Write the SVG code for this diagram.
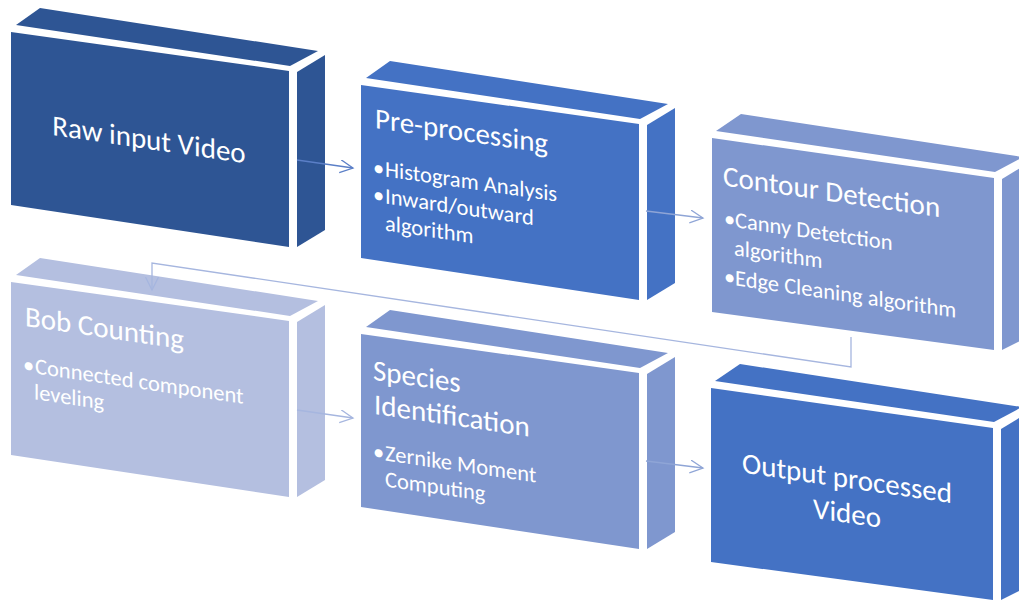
<svg xmlns="http://www.w3.org/2000/svg" width="1019" height="602" viewBox="0 0 1019 602">
<style>
.t{font-family:Carlito,Lato,"Liberation Sans",sans-serif;fill:#ffffff;}
.h{font-size:29px;}
.b{font-size:22.5px;}
.c1{fill:#2E5594;}
.c2{fill:#4472C4;}
.c3{fill:#7F97CF;}
.c4{fill:#B4BFE0;}
.ln{fill:none;stroke-width:1.3;}
</style>
<defs>
<marker id="a1" markerUnits="userSpaceOnUse" markerWidth="16" markerHeight="16" refX="13" refY="6.5" orient="auto"><path d="M0,0 L13,6.5 L0,13" fill="none" stroke="#5B7FC7" stroke-width="1.3"/></marker>
<marker id="a2" markerUnits="userSpaceOnUse" markerWidth="16" markerHeight="16" refX="13" refY="6.5" orient="auto"><path d="M0,0 L13,6.5 L0,13" fill="none" stroke="#8FA5D6" stroke-width="1.3"/></marker>
<marker id="a3" markerUnits="userSpaceOnUse" markerWidth="16" markerHeight="16" refX="13" refY="6.5" orient="auto"><path d="M0,0 L13,6.5 L0,13" fill="none" stroke="#A6B6DF" stroke-width="1.3"/></marker>
</defs>

<g id="node-raw">
<g transform="translate(11,32)" class="c1">
<polygon points="0,0 278,39 278,215 0,173"/>
<polygon points="5,-7 29,-24 307,19 279,34"/>
<polygon points="286,40 314,23 314,198 286,215"/>
</g>
<g transform="translate(11,32) skewY(8.3)" class="t">
<text class="h" x="138" y="97" text-anchor="middle">Raw input Video</text>
</g>
</g>

<g id="node-pre">
<g transform="translate(361,85)" class="c2">
<polygon points="0,0 278,39 278,215 0,173"/>
<polygon points="5,-7 29,-24 307,19 279,34"/>
<polygon points="286,40 314,23 314,198 286,215"/>
</g>
<g transform="translate(361,85) skewY(8.3)" class="t">
<text class="h" x="14" y="41">Pre-processing</text>
<text class="b" x="12" y="88">•</text><text class="b" x="24" y="88">Histogram Analysis</text>
<text class="b" x="12" y="115">•</text><text class="b" x="24" y="115">Inward/outward</text>
<text class="b" x="24" y="142">algorithm</text>
</g>
</g>

<g id="node-contour">
<g transform="translate(712,138)" class="c3">
<polygon points="0,0 282,40 282,212 0,174"/>
<polygon points="4,-7 29,-24 311,19 283,34"/>
<polygon points="290,41 318,24 318,198 290,212"/>
</g>
<g transform="translate(712,138) skewY(8.3)" class="t">
<text class="h" x="11" y="46">Contour Detection</text>
<text class="b" x="12" y="86">•</text><text class="b" x="23" y="86">Canny Detetction</text>
<text class="b" x="22" y="114">algorithm</text>
<text class="b" x="12" y="144">•</text><text class="b" x="23" y="144">Edge Cleaning algorithm</text>
</g>
</g>

<g id="node-bob">
<g transform="translate(11,282)" class="c4">
<polygon points="0,0 278,39 278,215 0,173"/>
<polygon points="5,-7 29,-24 307,19 279,34"/>
<polygon points="286,40 314,23 314,198 286,215"/>
</g>
<g transform="translate(11,282) skewY(8.3)" class="t">
<text class="h" x="14" y="42">Bob Counting</text>
<text class="b" x="12" y="88">•</text><text class="b" x="24" y="88">Connected component</text>
<text class="b" x="23" y="114">leveling</text>
</g>
</g>

<g id="node-species">
<g transform="translate(361,334)" class="c3">
<polygon points="0,0 278,39 278,215 0,173"/>
<polygon points="5,-7 29,-24 307,19 279,34"/>
<polygon points="286,40 314,23 314,198 286,215"/>
</g>
<g transform="translate(361,334) skewY(8.3)" class="t">
<text class="h" x="12" y="44">Species</text>
<text class="h" x="13" y="78">Identification</text>
<text class="b" x="12" y="123">•</text><text class="b" x="24" y="123">Zernike Moment</text>
<text class="b" x="24" y="149">Computing</text>
</g>
</g>

<g id="node-output">
<g transform="translate(711,388)" class="c2">
<polygon points="0,0 282,40 282,212 0,174"/>
<polygon points="4,-7 29,-24 311,19 283,34"/>
<polygon points="290,41 318,24 318,198 290,212"/>
</g>
<g transform="translate(711,388) skewY(8.3)" class="t">
<text class="h" x="136" y="80" text-anchor="middle">Output processed</text>
<text class="h" x="136" y="115" text-anchor="middle">Video</text>
</g>
</g>

<g id="connectors">
<path class="ln" stroke="#5B7FC7" d="M297,160 L353,168" marker-end="url(#a1)"/>
<path class="ln" stroke="#8FA5D6" d="M646,211 L703,218" marker-end="url(#a2)"/>
<path class="ln" stroke="#A6B6DF" d="M851,337 L851,367 L152,263 L152,290" marker-end="url(#a3)"/>
<path class="ln" stroke="#A6B6DF" d="M297,410 L353,418" marker-end="url(#a3)"/>
<path class="ln" stroke="#8FA5D6" d="M646,461 L703,468" marker-end="url(#a2)"/>
</g>
</svg>
